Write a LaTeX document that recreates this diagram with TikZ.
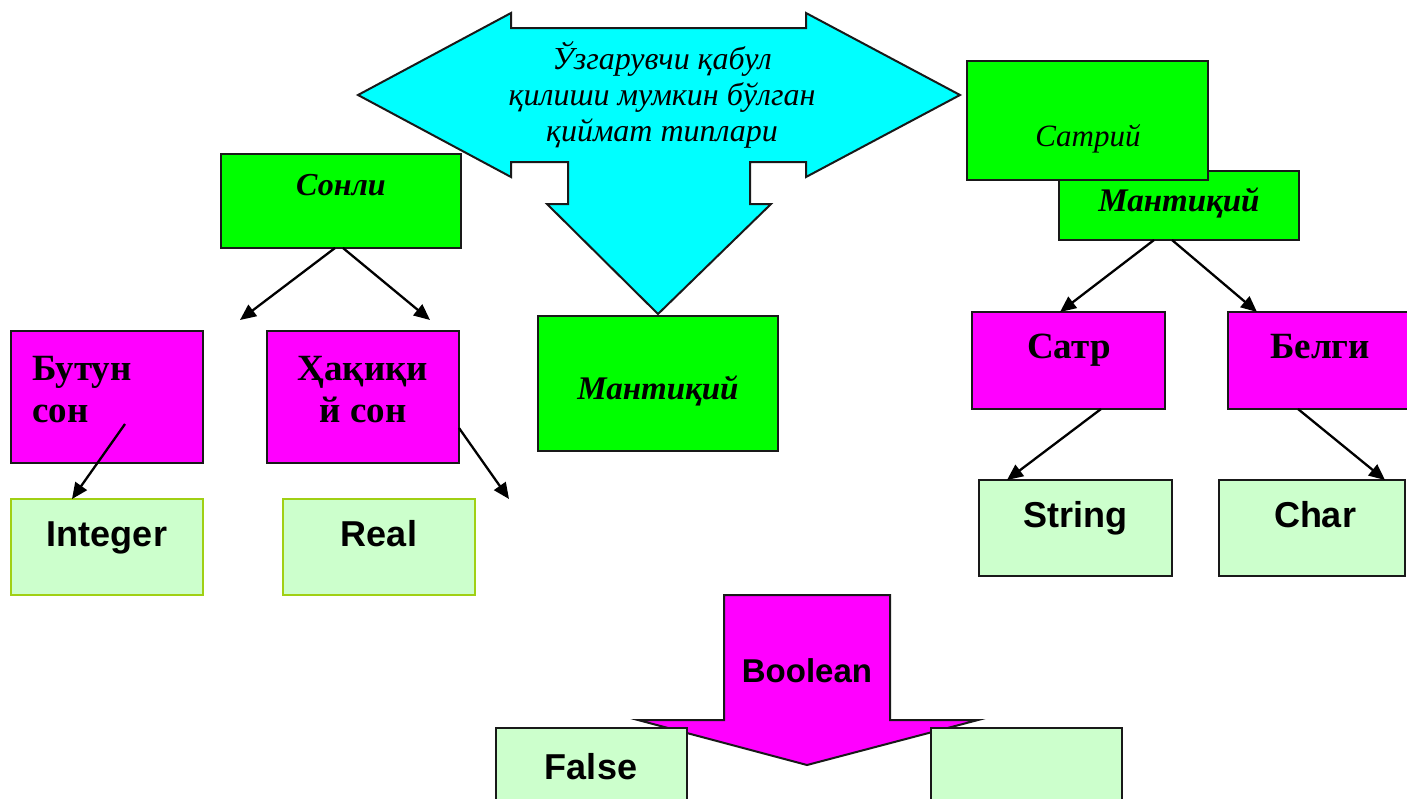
\documentclass[tikz,border=0pt]{standalone}
\usepackage{fontspec}
\setmainfont{Liberation Serif}
\newfontfamily\arialf{Liberation Sans}
\usetikzlibrary{arrows.meta,calc}
\definecolor{cyanf}{RGB}{0,255,255}
\definecolor{greenf}{RGB}{0,255,0}
\definecolor{magf}{RGB}{255,0,255}
\definecolor{paleg}{RGB}{204,255,204}
\definecolor{yellowg}{RGB}{160,208,20}
\definecolor{edge}{RGB}{25,25,25}
\begin{document}
\begin{tikzpicture}[x=1pt,y=-1pt,
  box/.style={draw=edge, line width=2pt, inner sep=0pt, outer sep=0pt, anchor=north west},
  gbox/.style={box, fill=greenf},
  mbox/.style={box, fill=magf},
  pbox/.style={box, fill=paleg},
  ybox/.style={box, fill=paleg, draw=yellowg, line width=2.3pt},
  conn/.style={line width=2.3pt, -{Triangle[length=16pt,width=14pt]}},
  serbi/.style={font=\fontsize{32}{36}\selectfont\bfseries\itshape, anchor=base, inner sep=0pt},
  serb/.style={font=\fontsize{37}{42}\selectfont\bfseries, inner sep=0pt},
  sansb/.style={font=\fontsize{36}{40}\selectfont\arialf\bfseries, anchor=base, inner sep=0pt}
]
\fill[white] (0,0) rectangle (1407,798);
\useasboundingbox (0,0) rectangle (1407,798);

% cyan three-way arrow
\draw[fill=cyanf, draw=edge, line width=2pt, line join=miter]
  (358,95) -- (511,13) -- (511,28) -- (806,28) -- (806,13) -- (960,95)
  -- (806,177) -- (806,162) -- (750,162) -- (750,204) -- (771,204)
  -- (658,314) -- (547,204) -- (568,204) -- (568,162) -- (511,162)
  -- (511,177) -- cycle;
\node[font=\fontsize{32}{36}\selectfont\itshape, align=center, inner sep=0pt] (title) at (662,95)
  {Ўзгарувчи қабул\\қилиши мумкин бўлган\\қиймат типлари};

% left branch
\node[gbox, minimum width=240pt, minimum height=94pt] (sonli) at (221,154) {};
\node[serbi] (sonlit) at (341,195) {Сонли};

\node[mbox, minimum width=192pt, minimum height=132pt] (butun) at (11,331) {};
\node[serb, align=left, anchor=north west] (butunt) at (32,356) {Бутун\\сон};
\node[mbox, minimum width=192pt, minimum height=132pt] (haq) at (267,331) {};
\node[serb, align=center, anchor=north] (haqt) at (363,356) {Ҳақиқи\\й сон};

\node[ybox, minimum width=192pt, minimum height=96pt] (int) at (11,499) {};
\node[sansb] (intt) at (107,546) {Integer};
\node[ybox, minimum width=192pt, minimum height=96pt] (real) at (283,499) {};
\node[sansb] (realt) at (379,546) {Real};

\coordinate (s1) at (240,320);
\coordinate (s2) at (430,320);
\coordinate (b1) at (125,424);
\coordinate (h1) at (509,499);
\draw[conn] ($(sonli.south)+(-6,0)$) -- (s1);
\draw[conn] ($(sonli.south)+(2,0)$) -- (s2);
\draw[conn] (b1) -- ($(int.north west)+(61,0)$);
\draw[conn] ($(haq.north east)+(0,97)$) -- (h1);

% central box
\node[gbox, minimum width=240pt, minimum height=135pt] (mant) at (538,316) {};
\node[serbi, font=\fontsize{33}{36}\selectfont\bfseries\itshape] (mantt) at (658,399) {Мантиқий};

% right branch
\node[gbox, minimum width=240pt, minimum height=69pt] (mant2) at (1059,171) {};
\node[serbi, font=\fontsize{33}{36}\selectfont\bfseries\itshape] (mant2t) at (1179,211) {Мантиқий};
\node[gbox, minimum width=241pt, minimum height=119pt] (satriy) at (967,61) {};
\node[font=\fontsize{31}{36}\selectfont\itshape, anchor=base, inner sep=0pt] (satriyt) at (1088,146) {Сатрий};

\node[mbox, minimum width=193pt, minimum height=97pt] (satr) at (972,312) {};
\node[serb, anchor=base] (satrt) at (1069,358) {Сатр};
\node[mbox, minimum width=190pt, minimum height=97pt] (belgi) at (1228,312) {};
\node[serb, anchor=base] (belgit) at (1320,358) {Белги};

\node[pbox, minimum width=193pt, minimum height=96pt] (str) at (979,480) {};
\node[sansb] (strt) at (1075,527) {String};
\node[pbox, minimum width=186pt, minimum height=96pt] (chr) at (1219,480) {};
\node[sansb] (chrt) at (1315,527) {Char};

\draw[conn] ($(mant2.south west)+(95,0)$) -- ($(satr.north west)+(88,0)$);
\draw[conn] ($(mant2.south west)+(113,0)$) -- ($(belgi.north west)+(29,0)$);
\draw[conn] ($(satr.south west)+(129,0)$) -- ($(str.north west)+(28,0)$);
\draw[conn] ($(belgi.south west)+(70,0)$) -- ($(chr.north west)+(166,0)$);

% Boolean arrow
\draw[fill=magf, draw=edge, line width=2pt, line join=miter]
  (724,595) -- (890,595) -- (890,720) -- (978,720) -- (807,765)
  -- (638,720) -- (724,720) -- cycle;
\node[sansb, font=\fontsize{33}{36}\selectfont\arialf\bfseries] (boolt) at (807,682) {Boolean};
\node[pbox, minimum width=191pt, minimum height=100pt] (false) at (496,728) {};
\node[sansb] (falset) at (591,779) {False};
\node[pbox, minimum width=191pt, minimum height=100pt] (true) at (931,728) {};
\end{tikzpicture}
\end{document}
